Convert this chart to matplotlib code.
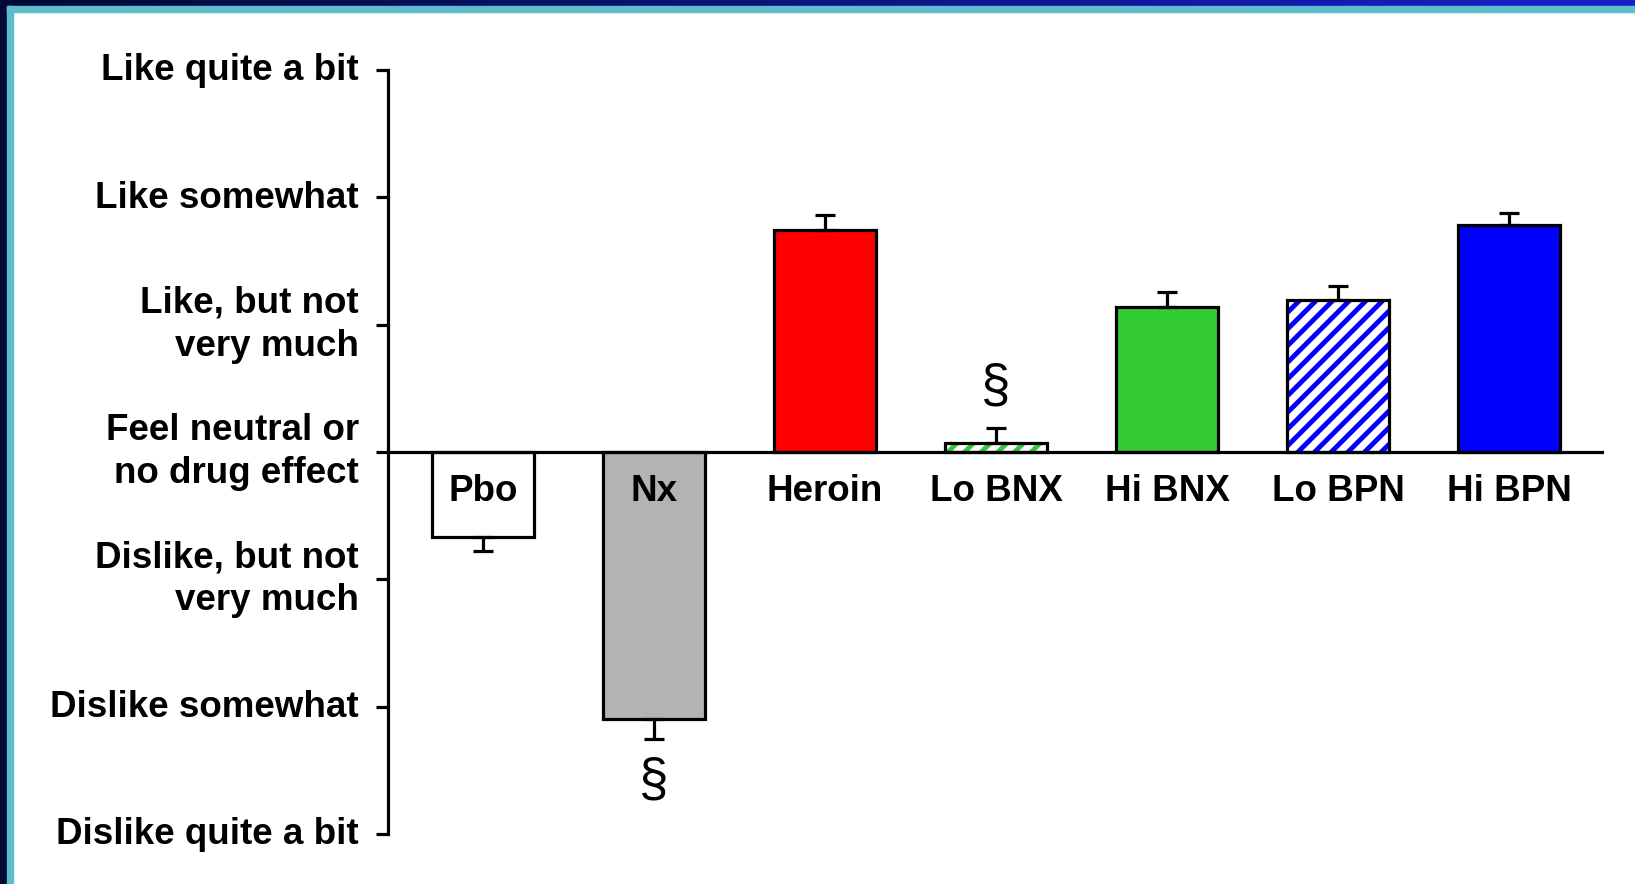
import matplotlib.pyplot as plt
import matplotlib.transforms as mtransforms
import numpy as np
from matplotlib.patches import Rectangle

# Data (scale: -3 = dislike quite a bit ... 3 = like quite a bit)
groups = ['Pbo', 'Nx', 'Heroin', 'Lo BNX', 'Hi BNX', 'Lo BPN', 'Hi BPN']
means = [-0.67, -2.10, 1.74, 0.07, 1.14, 1.19, 1.78]
errors = [0.11, 0.15, 0.12, 0.12, 0.12, 0.11, 0.10]
face_colors = ['white', '#b3b3b3', '#ff0000', 'white', '#33cc33', 'white', '#0000ff']
hatch_colors = [None, None, None, '#33cc33', None, '#0000ff', None]
sig_marks = {1: -2.59, 3: 0.51}  # § positions

tick_values = [-3, -2, -1, 0, 1, 2, 3]
tick_labels = ['Dislike quite a bit', 'Dislike somewhat', 'Dislike, but not\nvery much',
               'Feel neutral or\nno drug effect', 'Like, but not\nvery much',
               'Like somewhat', 'Like quite a bit']

plt.rcParams['font.family'] = ['Liberation Sans', 'DejaVu Sans']
plt.rcParams['hatch.linewidth'] = 3.5

fig = plt.figure(figsize=(16.35, 8.84), dpi=100)
W, H = 1635, 884

# slide frame: dark gradient bar on top, dark band on left, cyan inner lines
grad_ax = fig.add_axes([0, 1 - 6 / H, 1, 6 / H])
grad = np.linspace(0, 1, 256)[None, :]
c0 = np.array([0.0, 0.04, 0.2])
c1 = np.array([0.1, 0.12, 0.8])
img = c0[None, None, :] + (c1 - c0)[None, None, :] * grad[..., None]
grad_ax.imshow(img, aspect='auto')
grad_ax.axis('off')
fig.patches.append(Rectangle((0, 0), 7 / W, 1, transform=fig.transFigure,
                             color='#020a35', zorder=5))
fig.patches.append(Rectangle((7 / W, 0), 6 / W, 1 - 6 / H, transform=fig.transFigure,
                             color='#5fbccc', zorder=5))
fig.patches.append(Rectangle((7 / W, 1 - 12 / H), 1, 6 / H, transform=fig.transFigure,
                             color='#5fbccc', zorder=5))

ax = fig.add_axes([388 / W, 1 - 834 / H, (1604 - 388) / W, (834 - 70) / H])

x = np.arange(len(groups))
width = 0.6

for i in range(len(groups)):
    if hatch_colors[i] is not None:
        ax.bar(x[i], means[i], width, color='white', edgecolor=hatch_colors[i],
               hatch='//', linewidth=0, zorder=2)
        ax.bar(x[i], means[i], width, fill=False, edgecolor='black',
               linewidth=2.3, zorder=3)
    else:
        ax.bar(x[i], means[i], width, color=face_colors[i], edgecolor='black',
               linewidth=2.3, zorder=3)
    # one-sided error bar, pointing away from zero
    lo = errors[i] if means[i] < 0 else 0
    hi = errors[i] if means[i] > 0 else 0
    ax.errorbar(x[i], means[i], yerr=[[lo], [hi]], fmt='none', ecolor='black',
                elinewidth=2.3, capsize=7, capthick=2.3, zorder=4)

# group labels just under the zero line
for i, name in enumerate(groups):
    ax.text(x[i], -0.31, name, ha='center', va='center', fontsize=26.5,
            fontweight='bold', zorder=5)

for i, yy in sig_marks.items():
    ax.text(x[i], yy, '§', ha='center', va='center', fontsize=38, zorder=5)

ax.axhline(0, color='black', linewidth=2.3, zorder=4)

ax.set_xlim(-0.555, 6.555)
ax.set_ylim(-3, 3)
ax.set_xticks([])
ax.set_yticks(tick_values)
ax.set_yticklabels(tick_labels, fontsize=26.5, fontweight='bold', ha='right',
                   linespacing=1.3)
ax.tick_params(axis='y', direction='out', length=9, width=2.3, pad=12)

# nudge tick labels up a little, more for the two-line ones
for lab in ax.get_yticklabels():
    dy = 8 if '\n' in lab.get_text() else 3
    lab.set_transform(lab.get_transform() +
                      mtransforms.ScaledTranslation(0, dy / 100, fig.dpi_scale_trans))

for side in ['top', 'right', 'bottom']:
    ax.spines[side].set_visible(False)
ax.spines['left'].set_linewidth(2.3)
ax.patch.set_alpha(0)

fig.savefig('out.png', dpi=100)
